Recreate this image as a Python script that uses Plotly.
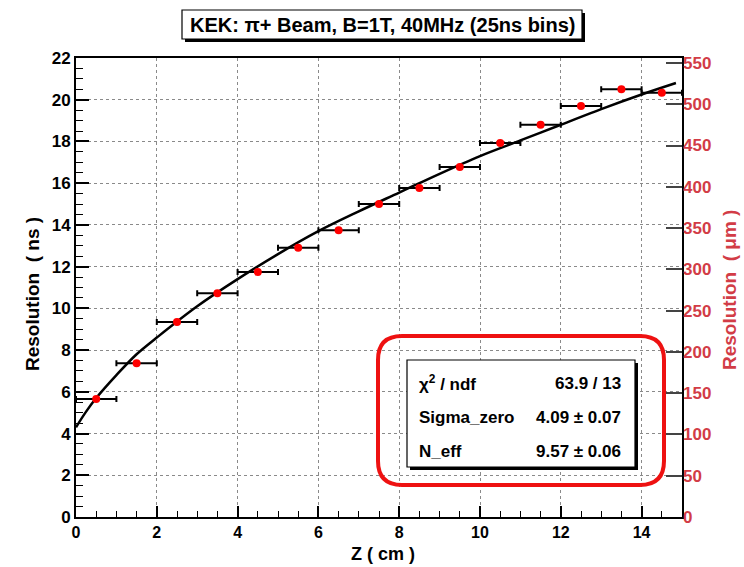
import plotly.graph_objects as go

# ---- data ----
z_cm = [0.5, 1.5, 2.5, 3.5, 4.5, 5.5, 6.5, 7.5, 8.5, 9.5, 10.5, 11.5, 12.5, 13.5, 14.5]
res_ns = [5.65, 7.37, 9.35, 10.73, 11.74, 12.9, 13.75, 15.0, 15.77, 16.78, 17.93, 18.8, 19.7, 20.5, 20.33]
z_err = [0.5] * 15
res_err = [0.12, 0.12, 0.12, 0.12, 0.12, 0.12, 0.12, 0.12, 0.12, 0.12, 0.12, 0.14, 0.14, 0.16, 0.14]

fit_z = [0, 0.25, 0.5, 1, 1.5, 2, 3, 4, 5, 6, 7, 8, 9, 10, 11, 12, 13, 14, 14.85]
fit_ns = [4.3, 5.05, 5.7, 6.8, 7.8, 8.6, 10.1, 11.4, 12.6, 13.7, 14.65, 15.55, 16.45, 17.3, 18.05, 18.8, 19.55, 20.25, 20.8]

x_ticks = [0, 2, 4, 6, 8, 10, 12, 14]
y_ticks = [0, 2, 4, 6, 8, 10, 12, 14, 16, 18, 20, 22]
y2_ticks = [0, 50, 100, 150, 200, 250, 300, 350, 400, 450, 500, 550]

title_text = "KEK: π+ Beam, B=1T, 40MHz (25ns bins)"
stats_labels = ["χ<sup>2</sup> / ndf", "Sigma_zero", "N_eff"]
stats_values = ["63.9 / 13", "4.09 ± 0.07", "9.57 ± 0.06"]

FONT = "Liberation Sans, Arial, sans-serif"
RED_AX = "#d23c46"

W, H = 744, 567
L, R, T, B = 76, 62, 58, 50
PW, PH = W - L - R, H - T - B


def fx(px):
    return (px - L) / PW


def fy(py):
    return (H - B - py) / PH


def rrect(x0, y0, x1, y1, r):
    pts = [
        ("M", [(x0 + r, y0)]), ("L", [(x1 - r, y0)]), ("Q", [(x1, y0), (x1, y0 + r)]),
        ("L", [(x1, y1 - r)]), ("Q", [(x1, y1), (x1 - r, y1)]), ("L", [(x0 + r, y1)]),
        ("Q", [(x0, y1), (x0, y1 - r)]), ("L", [(x0, y0 + r)]), ("Q", [(x0, y0), (x0 + r, y0)]),
    ]
    s = ""
    for cmd, ps in pts:
        s += cmd + " " + " ".join(f"{fx(a):.5f},{fy(b):.5f}" for a, b in ps) + " "
    return s + "Z"


fig = go.Figure()

fig.add_trace(go.Scatter(
    x=fit_z, y=fit_ns, mode="lines", line=dict(color="black", width=2.5, shape="spline"),
    showlegend=False, hoverinfo="skip"))

fig.add_trace(go.Scatter(
    x=z_cm, y=res_ns, mode="markers",
    marker=dict(color="#ff0000", size=8),
    error_x=dict(type="data", array=z_err, color="black", thickness=2, width=3),
    error_y=dict(type="data", array=res_err, color="black", thickness=1.5, width=0),
    showlegend=False))

# invisible trace to activate the right axis
fig.add_trace(go.Scatter(x=[0], y=[0], yaxis="y2", mode="markers",
                         marker=dict(opacity=0), showlegend=False, hoverinfo="skip"))

shapes = []
# title box with shadow
shapes.append(dict(type="rect", xref="paper", yref="paper", x0=fx(185), x1=fx(585), y0=fy(42), y1=fy(13),
                   fillcolor="black", line=dict(width=0), layer="above"))
shapes.append(dict(type="rect", xref="paper", yref="paper", x0=fx(182), x1=fx(582), y0=fy(39), y1=fy(10),
                   fillcolor="white", line=dict(color="black", width=1.2), layer="above"))
# stats box with shadow
shapes.append(dict(type="rect", xref="paper", yref="paper", x0=fx(410), x1=fx(638), y0=fy(470), y1=fy(363),
                   fillcolor="black", line=dict(width=0), layer="above"))
shapes.append(dict(type="rect", xref="paper", yref="paper", x0=fx(407), x1=fx(635), y0=fy(467), y1=fy(360),
                   fillcolor="white", line=dict(color="black", width=1.2), layer="above"))
# red rounded highlight
shapes.append(dict(type="path", xref="paper", yref="paper", path=rrect(378, 336, 664, 485, 24),
                   line=dict(color="#ee1111", width=4), layer="above"))

annotations = [
    dict(x=fx(382), y=fy(25), xref="paper", yref="paper", text=title_text, showarrow=False,
         xanchor="center", yanchor="middle", font=dict(family=FONT, size=20, color="black", weight="bold")),
    dict(x=fx(32), y=fy(294), xref="paper", yref="paper", text="Resolution  ( ns )", showarrow=False,
         textangle=-90, xanchor="center", yanchor="middle",
         font=dict(family=FONT, size=19, color="black", weight="bold")),
    dict(x=fx(729), y=fy(290), xref="paper", yref="paper", text="Resolution  ( μm )", showarrow=False,
         textangle=-90, xanchor="center", yanchor="middle",
         font=dict(family=FONT, size=19, color=RED_AX, weight="bold")),
    dict(x=fx(383), y=fy(554), xref="paper", yref="paper", text="Z ( cm )", showarrow=False,
         xanchor="center", yanchor="middle", font=dict(family=FONT, size=18, color="black", weight="bold")),
]
row_y = [383, 417, 451]
for lab, val, ry in zip(stats_labels, stats_values, row_y):
    annotations.append(dict(x=fx(417), y=fy(ry), xref="paper", yref="paper", text=lab, showarrow=False,
                            xanchor="left", yanchor="middle",
                            font=dict(family=FONT, size=17, color="black", weight="bold")))
    annotations.append(dict(x=fx(623), y=fy(ry), xref="paper", yref="paper", text=val, showarrow=False,
                            xanchor="right", yanchor="middle",
                            font=dict(family=FONT, size=17, color="black", weight="bold")))

fig.update_layout(
    width=W, height=H,
    margin=dict(l=L, r=R, t=T, b=B, pad=0),
    paper_bgcolor="white", plot_bgcolor="white",
    font=dict(family=FONT, color="black", weight="bold"),
    showlegend=False,
    xaxis=dict(range=[0, 15], tickvals=x_ticks, ticktext=[str(v) for v in x_ticks],
               ticks="inside", ticklen=11, tickwidth=1.5, tickcolor="black",
               minor=dict(dtick=0.5, tick0=0, ticks="inside", ticklen=6, tickwidth=1.2, tickcolor="black", showgrid=False),
               showgrid=True, gridcolor="#8a8a8a", griddash="dot", gridwidth=1,
               showline=True, linecolor="black", linewidth=2, mirror=True, zeroline=False,
               tickfont=dict(family=FONT, size=16, color="black", weight="bold")),
    yaxis=dict(range=[0, 22], tickvals=y_ticks, ticktext=[str(v) for v in y_ticks],
               ticks="inside", ticklen=13, tickwidth=1.5, tickcolor="black",
               minor=dict(dtick=0.5, tick0=0, ticks="inside", ticklen=7, tickwidth=1.2, tickcolor="black", showgrid=False),
               showgrid=True, gridcolor="#8a8a8a", griddash="dot", gridwidth=1,
               showline=True, linecolor="black", linewidth=2, mirror=True, zeroline=False,
               tickfont=dict(family=FONT, size=17, color="black", weight="bold")),
    yaxis2=dict(range=[0, 556], overlaying="y", side="right", tickvals=y2_ticks,
                ticktext=[str(v) for v in y2_ticks],
                ticks="inside", ticklen=16, tickwidth=1.5, tickcolor="#444444",
                showgrid=False, zeroline=False, showline=False,
                tickfont=dict(family=FONT, size=17, color=RED_AX, weight="bold")),
    shapes=shapes, annotations=annotations,
)

fig.write_html("out.html")
